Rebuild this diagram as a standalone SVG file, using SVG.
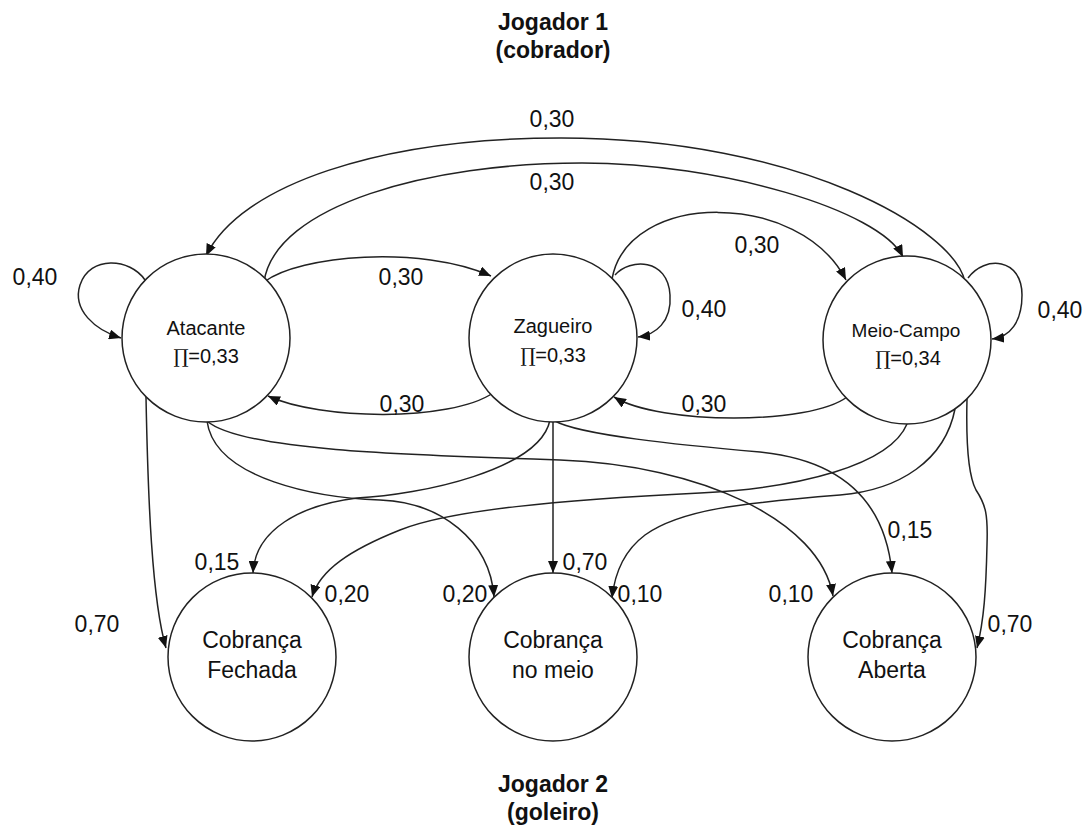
<svg xmlns="http://www.w3.org/2000/svg" width="1090" height="829" viewBox="0 0 1090 829">
  <defs>
    <marker id="arrow" viewBox="0 0 12 10" refX="12" refY="5" markerWidth="12" markerHeight="10" markerUnits="userSpaceOnUse" orient="auto">
      <path d="M0,0 L12,5 L0,10 Z" fill="#111"/>
    </marker>
    <style>
      .node circle { fill: #fff; stroke: #222; stroke-width: 1.5; }
      .node text { font-family: "Liberation Sans", Arial, sans-serif; fill: #111; text-anchor: middle; }
      .small { font-size: 20px; }
      .big { font-size: 23px; }
      .pi { font-family: "DejaVu Serif", serif; font-size: 19px; }
      .edges path { fill: none; stroke: #222; stroke-width: 1.5; marker-end: url(#arrow); }
      .lbl { font-family: "Liberation Sans", Arial, sans-serif; font-size: 23px; fill: #111; text-anchor: middle; }
      .title { font-family: "Liberation Sans", Arial, sans-serif; font-size: 23px; font-weight: bold; fill: #111; text-anchor: middle; }
    </style>
  </defs>
  <rect width="1090" height="829" fill="#fff"/>

  <g id="titles">
    <text class="title" x="553" y="30">Jogador 1</text>
    <text class="title" x="553" y="58">(cobrador)</text>
    <text class="title" x="553" y="792">Jogador 2</text>
    <text class="title" x="553" y="820">(goleiro)</text>
  </g>

  <g class="edges" id="connectors">
    <!-- self loops -->
    <path d="M145,280 C130,258 90,255 80,285 C72,310 95,330 121,338"/>
    <path d="M615,275 C630,258 668,258 670,295 C672,322 655,335 638,337"/>
    <path d="M968,278 C985,255 1022,258 1022,295 C1022,322 1010,337 992,339"/>
    <!-- upper arcs -->
    <path d="M965,282 C955,230 800,138 561,138 C380,138 240,185 206,256"/>
    <path d="M264,282 C275,205 430,163 582,163 C720,163 880,210 903,257"/>
    <path d="M264,282 C300,255 420,245 491,276"/>
    <path d="M612,279 C628,190 800,190 846,280"/>
    <!-- lower arcs between top nodes -->
    <path d="M847,397 C810,425 660,425 614,397"/>
    <path d="M493,393 C450,422 320,420 268,396"/>
    <!-- Atacante to bottom nodes -->
    <path d="M146,397 C148,500 152,600 166,648"/>
    <path d="M207,421 C215,480 320,498 380,500 C440,502 490,540 494,597"/>
    <path d="M207,421 C240,450 400,455 560,460 C700,465 820,520 833,596"/>
    <!-- Zagueiro to bottom nodes -->
    <path d="M550,420 C540,470 420,495 357,498 C300,505 255,530 253,573"/>
    <path d="M553,422 L553,573"/>
    <path d="M555,421 C580,435 680,445 760,452 C840,460 885,500 892,573"/>
    <!-- Meio-Campo to bottom nodes -->
    <path d="M907,424 C890,465 800,488 700,493 C560,500 450,510 400,530 C350,550 320,570 312,597"/>
    <path d="M955,409 C945,460 900,490 840,495 C740,503 680,510 645,535 C625,550 615,570 612,598"/>
    <path d="M967,399 C966,440 968,475 976,490 C986,505 988,515 987,545 C986,590 984,620 977,648"/>
  </g>

  <g id="edge-labels">
    <text class="lbl" x="35" y="285">0,40</text>
    <text class="lbl" x="552" y="127">0,30</text>
    <text class="lbl" x="552" y="190">0,30</text>
    <text class="lbl" x="401" y="285">0,30</text>
    <text class="lbl" x="757" y="253">0,30</text>
    <text class="lbl" x="704" y="317">0,40</text>
    <text class="lbl" x="1060" y="318">0,40</text>
    <text class="lbl" x="402" y="412">0,30</text>
    <text class="lbl" x="704" y="412">0,30</text>
    <text class="lbl" x="97" y="632">0,70</text>
    <text class="lbl" x="217" y="570">0,15</text>
    <text class="lbl" x="347" y="602">0,20</text>
    <text class="lbl" x="465" y="602">0,20</text>
    <text class="lbl" x="585" y="570">0,70</text>
    <text class="lbl" x="640" y="602">0,10</text>
    <text class="lbl" x="791" y="602">0,10</text>
    <text class="lbl" x="910" y="538">0,15</text>
    <text class="lbl" x="1010" y="632">0,70</text>
  </g>

  <g class="node" id="atacante">
    <circle cx="206" cy="338" r="84"/>
    <text class="small" x="206" y="335">Atacante</text>
    <text class="small" x="206" y="363"><tspan class="pi">∏</tspan>=0,33</text>
  </g>
  <g class="node" id="zagueiro">
    <circle cx="553" cy="338" r="84"/>
    <text class="small" x="553" y="333">Zagueiro</text>
    <text class="small" x="553" y="362"><tspan class="pi">∏</tspan>=0,33</text>
  </g>
  <g class="node" id="meio-campo">
    <circle cx="907" cy="340" r="84"/>
    <text class="small" x="906" y="337" style="font-size:19px">Meio-Campo</text>
    <text class="small" x="908" y="365"><tspan class="pi">∏</tspan>=0,34</text>
  </g>
  <g class="node" id="cobranca-fechada">
    <circle cx="252" cy="657" r="84"/>
    <text class="big" x="252" y="648">Cobrança</text>
    <text class="big" x="252" y="678">Fechada</text>
  </g>
  <g class="node" id="cobranca-meio">
    <circle cx="553" cy="657" r="84"/>
    <text class="big" x="553" y="648">Cobrança</text>
    <text class="big" x="553" y="678">no meio</text>
  </g>
  <g class="node" id="cobranca-aberta">
    <circle cx="892" cy="657" r="84"/>
    <text class="big" x="892" y="648">Cobrança</text>
    <text class="big" x="892" y="678">Aberta</text>
  </g>
</svg>
